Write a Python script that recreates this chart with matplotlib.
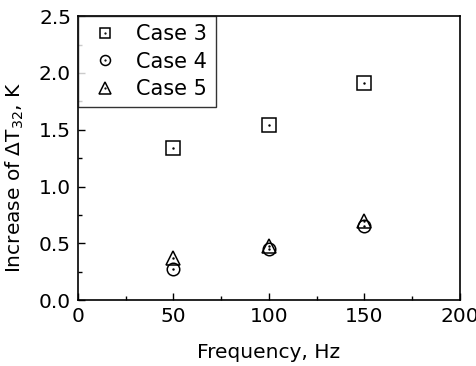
import matplotlib
matplotlib.use("Agg")
import matplotlib.pyplot as plt
from matplotlib.ticker import MultipleLocator

plt.rcParams['font.family'] = ['DejaVu Sans']
plt.rcParams['mathtext.fontset'] = 'dejavusans'

freq = [50, 100, 150]
case3 = [1.34, 1.54, 1.91]
case4 = [0.27, 0.45, 0.65]
case5 = [0.37, 0.48, 0.70]
labels = ["Case 3", "Case 4", "Case 5"]

fig = plt.figure(figsize=(4.77, 3.66), dpi=100)
ax = fig.add_axes([0.1635, 0.180, 0.8005, 0.776])

styles = [('s', 9.4), ('o', 9.0), ('^', 10.5)]
handles = []
for ys, (m, ms), lab in zip([case3, case4, case5], styles, labels):
    h1, = ax.plot(freq, ys, linestyle='none', marker=m, markersize=ms,
                  markerfacecolor='none', markeredgecolor='black', markeredgewidth=1.1)
    h2, = ax.plot(freq, ys, linestyle='none', marker='.', markersize=1.5, color='black')
    handles.append((h1, h2))

ax.set_xlim(0, 200)
ax.set_ylim(0, 2.5)
ax.xaxis.set_major_locator(MultipleLocator(50))
ax.xaxis.set_minor_locator(MultipleLocator(25))
ax.yaxis.set_major_locator(MultipleLocator(0.5))
ax.yaxis.set_minor_locator(MultipleLocator(0.25))
ax.yaxis.set_major_formatter(plt.FormatStrFormatter('%.1f'))
ax.tick_params(which='both', direction='in', top=False, right=False, labelsize=14.5, width=1)
ax.tick_params(which='major', length=5)
ax.tick_params(which='minor', length=3)
ax.tick_params(axis='y', pad=5)
ax.tick_params(axis='x', pad=5)
for s in ax.spines.values():
    s.set_linewidth(1.2)

ax.set_xlabel("Frequency, Hz", fontsize=14.5, labelpad=12)
ax.set_ylabel(r"Increase of $\Delta$T$_{32}$, K", fontsize=14.5)
ax.yaxis.set_label_coords(-0.135, 0.43)

leg = ax.legend(handles, labels, loc='upper left', borderaxespad=0, fontsize=15,
                frameon=True, fancybox=False, edgecolor='black', handletextpad=0.6,
                labelspacing=0.35, borderpad=0.4, handlelength=1.8, markerscale=0.8)
leg.get_frame().set_linewidth(1.0)

fig.savefig("out.png", dpi=100)
